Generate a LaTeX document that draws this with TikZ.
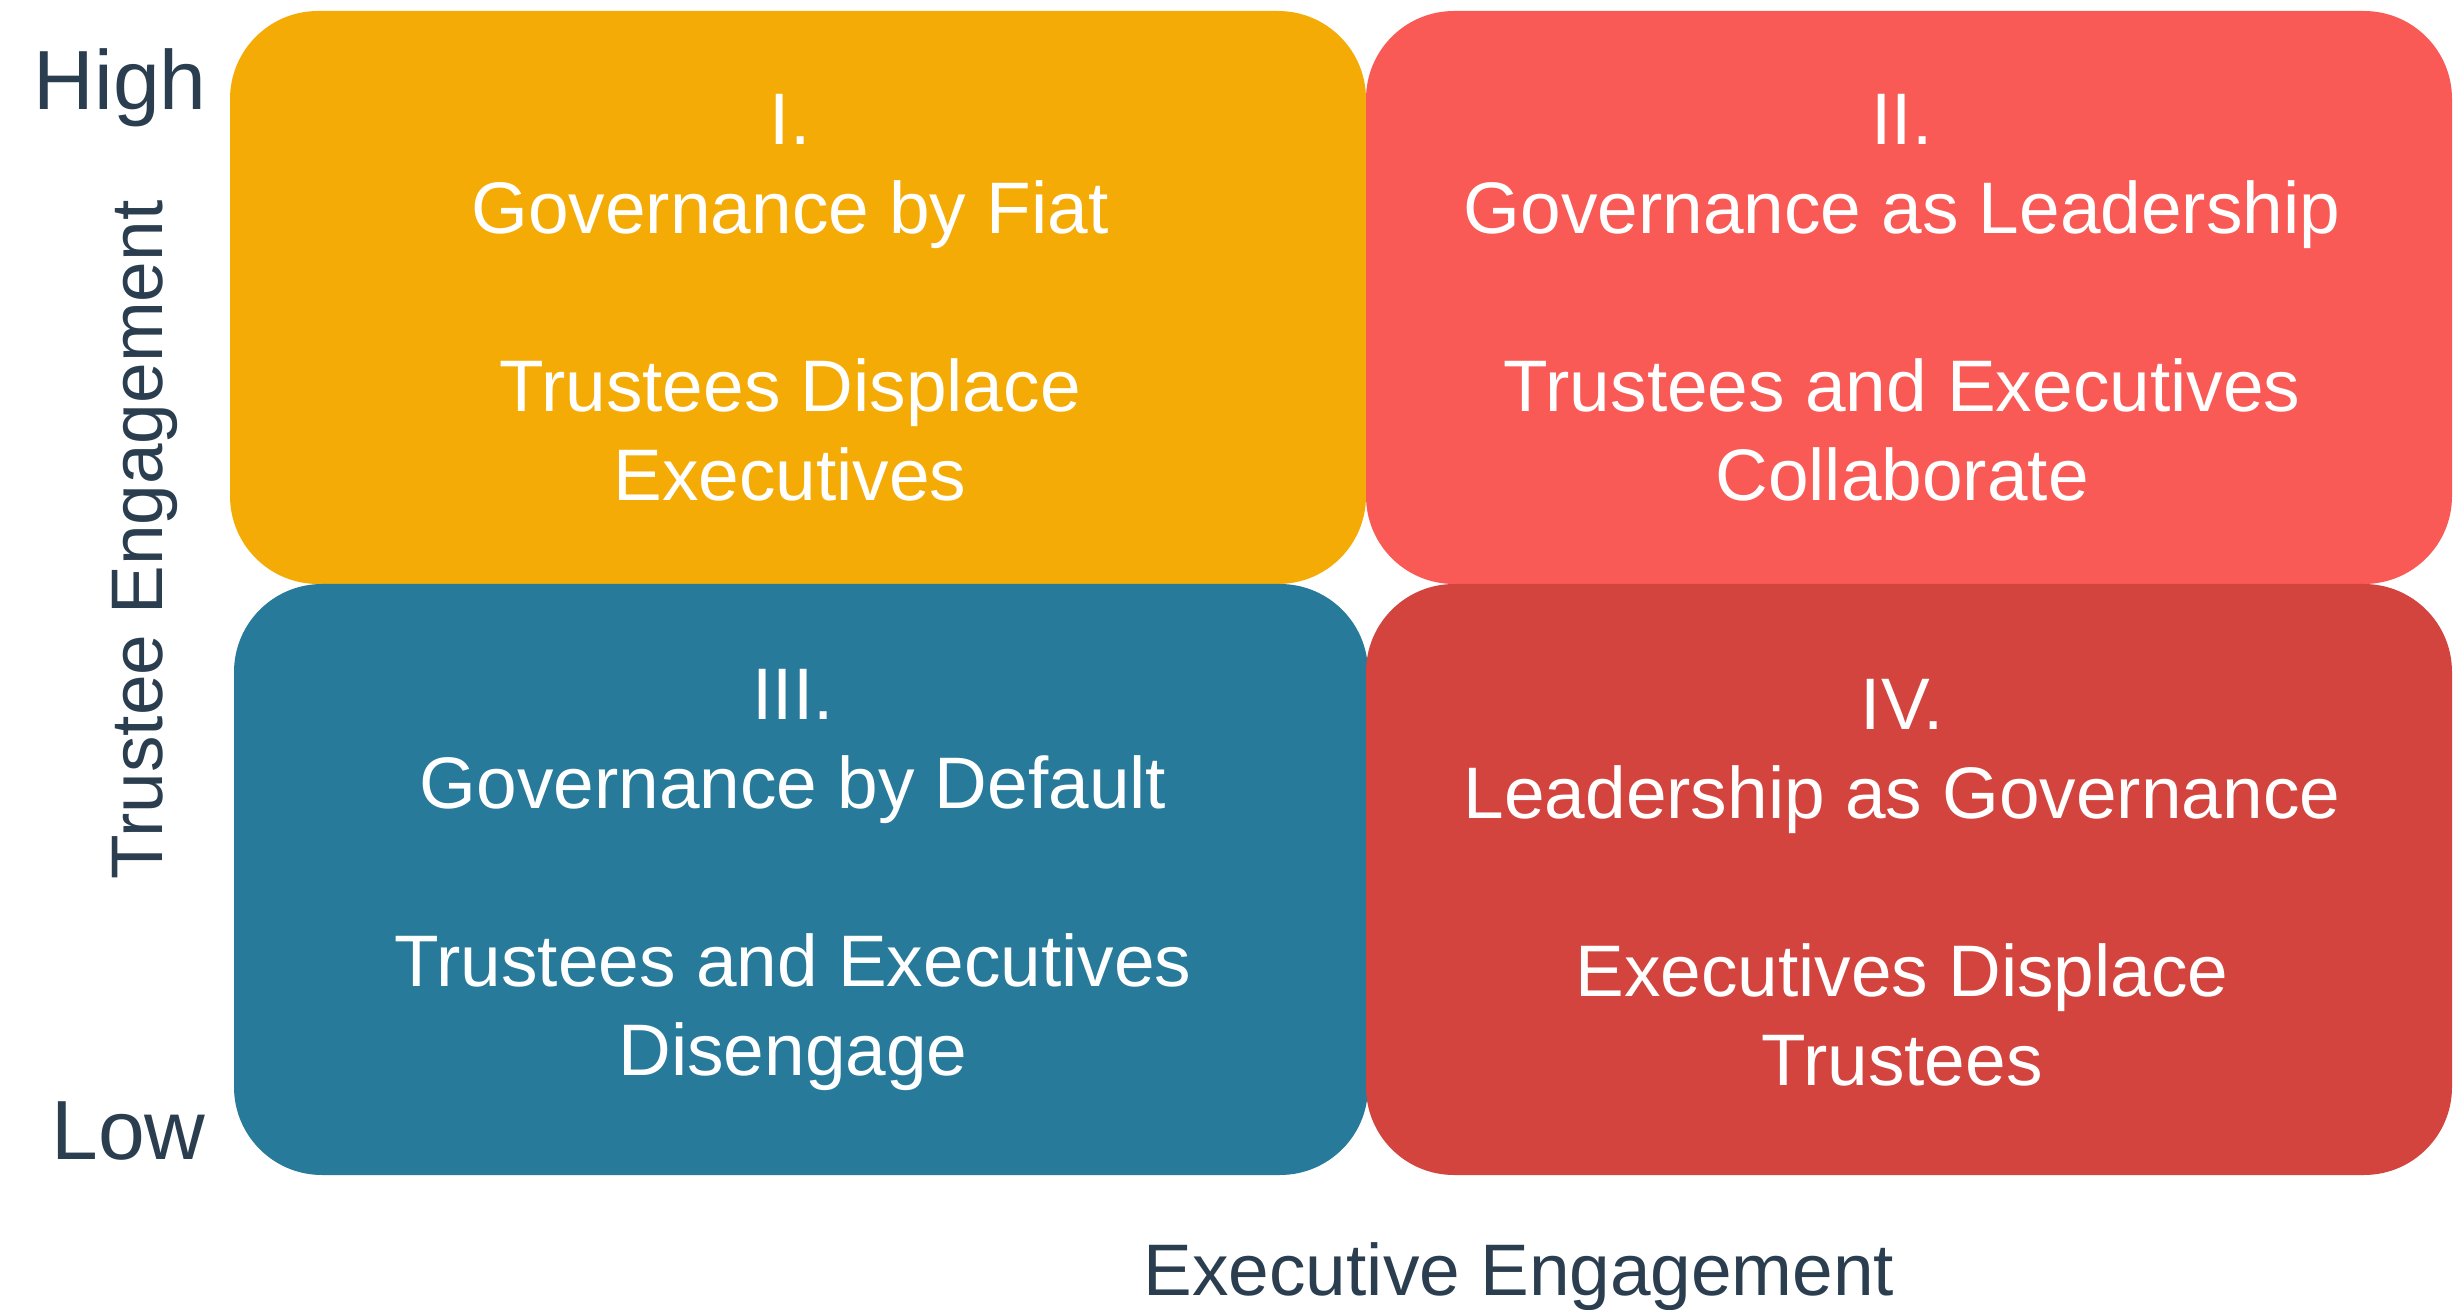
\documentclass[tikz,border=0pt]{standalone}
\usepackage{fontspec}
\setmainfont{Liberation Sans}
\definecolor{amber}{HTML}{F5AB05}
\definecolor{coral}{HTML}{F95A55}
\definecolor{teal}{HTML}{277A99}
\definecolor{brick}{HTML}{D3443F}
\definecolor{axisc}{HTML}{2B3E50}
\begin{document}
\begin{tikzpicture}[x=0.5pt,y=-0.5pt,
  quad/.style={rectangle, rounded corners=44pt, inner sep=0pt},
  quadtext/.style={inner sep=0pt, align=center, text=white,
    font=\fontsize{36.5}{44.5}\selectfont},
  axislabel/.style={text=axisc, inner sep=0pt, font=\fontsize{36.5}{44}\selectfont},
  levellabel/.style={text=axisc, inner sep=0pt, anchor=base east, font=\fontsize{42}{50}\selectfont}]
\useasboundingbox (0,0) rectangle (2454,1310);
\node[quad, fill=amber, minimum width=568pt, minimum height=286.5pt] (q1) at (798,297.5) {};
\node[quad, fill=coral, minimum width=543pt, minimum height=286.5pt] (q2) at (1909,297.5) {};
\node[quad, fill=teal, minimum width=567pt, minimum height=295.5pt] (q3) at (801,879.5) {};
\node[quad, fill=brick, minimum width=543pt, minimum height=295.5pt] (q4) at (1909,879.5) {};
\node[quadtext] (t1) at ([xshift=-4pt]q1.center)
  {I.\\Governance by Fiat\\[44.5pt]Trustees Displace\\Executives};
\node[quadtext] (t2) at ([xshift=-3.5pt]q2.center)
  {II.\\Governance as Leadership\\[44.5pt]Trustees and Executives\\Collaborate};
\node[quadtext] (t3) at ([xshift=-4pt]q3.center)
  {III.\\Governance by Default\\[44.5pt]Trustees and Executives\\Disengage};
\node[quadtext] (t4) at ([xshift=-3.5pt,yshift=-1.5pt]q4.center)
  {IV.\\Leadership as Governance\\[44.5pt]Executives Displace\\Trustees};
\node[axislabel, rotate=90, anchor=base] (ty) at (162,540) {Trustee Engagement};
\node[axislabel, anchor=base] (ex) at (1519,1295) {Executive Engagement};
\node[levellabel] (hi) at (207,110) {High};
\node[levellabel] (lo) at (206,1159) {Low};
\end{tikzpicture}
\end{document}
